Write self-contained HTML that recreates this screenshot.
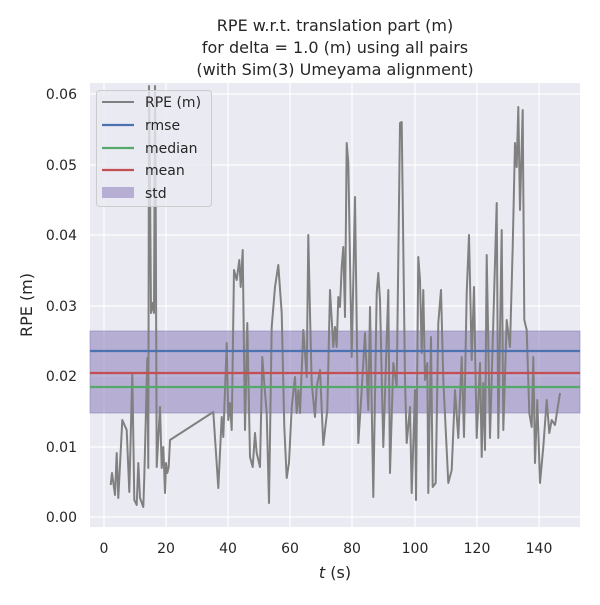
<!DOCTYPE html><html><head><style>body{margin:0;background:#fff}svg text{font-family:"DejaVu Sans","Liberation Sans",sans-serif;fill:#262626}</style></head><body>
<svg width="600" height="600" viewBox="0 0 600 600">
<rect width="600" height="600" fill="#fff"/>
<defs><clipPath id="c"><rect x="90" y="83" width="490" height="444"/></clipPath></defs>
<rect x="90" y="83" width="490" height="444" fill="#eaeaf2"/>
<g stroke="#fff" stroke-width="1.2">
<line x1="104" y1="83" x2="104" y2="527"/><line x1="166" y1="83" x2="166" y2="527"/><line x1="228" y1="83" x2="228" y2="527"/><line x1="290" y1="83" x2="290" y2="527"/><line x1="352" y1="83" x2="352" y2="527"/><line x1="415" y1="83" x2="415" y2="527"/><line x1="477" y1="83" x2="477" y2="527"/><line x1="539" y1="83" x2="539" y2="527"/>
<line x1="90" y1="517" x2="580" y2="517"/><line x1="90" y1="447" x2="580" y2="447"/><line x1="90" y1="376" x2="580" y2="376"/><line x1="90" y1="306" x2="580" y2="306"/><line x1="90" y1="235" x2="580" y2="235"/><line x1="90" y1="165" x2="580" y2="165"/><line x1="90" y1="94" x2="580" y2="94"/>
</g>
<rect x="90" y="331" width="490" height="82" fill="#8172b3" fill-opacity="0.5" stroke="#8172b3" stroke-opacity="0.5"/>
<g clip-path="url(#c)">
<polyline fill="none" stroke="#808080" stroke-width="2" stroke-linejoin="round" points="110.7,485 112,473 115,495 116.7,453 118.3,498 122.3,420 126.7,430 129.3,492 132.3,373 134.3,500 136.7,505 138.3,463 140,498 143.3,507 144.3,477 147.3,358 148.3,468 149,86 150,180 151,313 152.7,303 154,313 155,86 155.7,200 156.7,467 160,407 161.7,468 163.3,447 165,493 166,463 167.3,473 168.7,467 170,440 213.3,412 218.3,488 221.7,417 223.3,437 226.7,343 228.3,420 230,403 231.7,430 234,270 236.7,280 239.3,260 240.7,287 242.7,250 245,430 247.3,323 250,457 252.7,467 255,433 256.7,453 260,467 262.3,357 264,380 266.7,413 269,503 271.7,327 275,287 278.3,265 281.7,313 284.3,427 286.7,478 289,463 291.7,407 295,377 296.7,413 298.3,390 300,413 303.3,330 306.7,377 308.3,235 310,313 311.7,383 315,417 316.7,387 320,370 323.3,445 327.3,410 330,290 333.3,347 335,327 336.7,347 338.3,297 340,307 341.7,267 343.3,247 345,317 346.7,143 348.3,163 351.7,357 355,197 358.3,443 361.7,390 365,333 368.3,410 370,307 373.3,497 376.7,293 378.3,273 380,300 383.3,447 388.3,290 390,473 393.3,363 396.7,387 400,123 401.7,122 405,380 406.7,443 410,407 411.7,493 415,390 416,500 418.3,257 420,280 421.7,353 423.3,290 425,380 427.3,363 428.3,493 431,337 432.7,487 435.7,483 438.3,323 441,290 443.3,380 448.3,483 451.7,470 455,390 458.3,438 461.7,357 464,437 466.7,293 469,235 471.7,360 474,287 476.7,438 480,363 481.7,457 483.3,383 485,450 486.7,255 490,438 496.7,203 498.3,438 501.7,230 503.3,430 506.7,320 510,347 512.7,247 515,143 516.7,167 518.3,107 520,210 522.7,110 524.3,320 526.7,330 529.3,413 531.7,427 533.3,357 535,463 537.3,400 540,483 543.3,447 546.7,400 549.3,433 551.7,420 555,425 560,393"/>
</g>
<line x1="90" y1="351" x2="580" y2="351" stroke="#4c72b0" stroke-width="2.2"/>
<line x1="90" y1="373" x2="580" y2="373" stroke="#c44e52" stroke-width="2.2"/>
<line x1="90" y1="387" x2="580" y2="387" stroke="#55a868" stroke-width="2.2"/>
<rect x="96.5" y="90.5" width="115" height="116" rx="3" fill="#eaeaf2" fill-opacity="0.8" stroke="#cccccc"/>
<line x1="102" y1="102" x2="134" y2="102" stroke="#808080" stroke-width="2"/>
<line x1="102" y1="125" x2="134" y2="125" stroke="#4c72b0" stroke-width="2.2"/>
<line x1="102" y1="148" x2="134" y2="148" stroke="#55a868" stroke-width="2.2"/>
<line x1="102" y1="170" x2="134" y2="170" stroke="#c44e52" stroke-width="2.2"/>
<rect x="102" y="187" width="32" height="11" fill="#8172b3" fill-opacity="0.5"/>
<g font-size="14"><text x="145" y="107">RPE (m)</text><text x="145" y="130">rmse</text><text x="145" y="153">median</text><text x="145" y="175">mean</text><text x="145" y="198">std</text></g>
<g font-size="14" text-anchor="middle"><text x="104" y="553">0</text><text x="166" y="553">20</text><text x="228" y="553">40</text><text x="290" y="553">60</text><text x="352" y="553">80</text><text x="415" y="553">100</text><text x="477" y="553">120</text><text x="539" y="553">140</text></g>
<g font-size="14" text-anchor="end"><text x="77" y="522">0.00</text><text x="77" y="452">0.01</text><text x="77" y="381">0.02</text><text x="77" y="311">0.03</text><text x="77" y="240">0.04</text><text x="77" y="170">0.05</text><text x="77" y="99">0.06</text></g>
<text x="335" y="578" font-size="16" text-anchor="middle"><tspan font-style="italic">t</tspan> (s)</text>
<text transform="translate(32,305) rotate(-90)" font-size="16" text-anchor="middle">RPE (m)</text>
<g font-size="16" text-anchor="middle"><text x="335" y="31">RPE w.r.t. translation part (m)</text><text x="335" y="53">for delta = 1.0 (m) using all pairs</text><text x="335" y="75">(with Sim(3) Umeyama alignment)</text></g>
</svg></body></html>
